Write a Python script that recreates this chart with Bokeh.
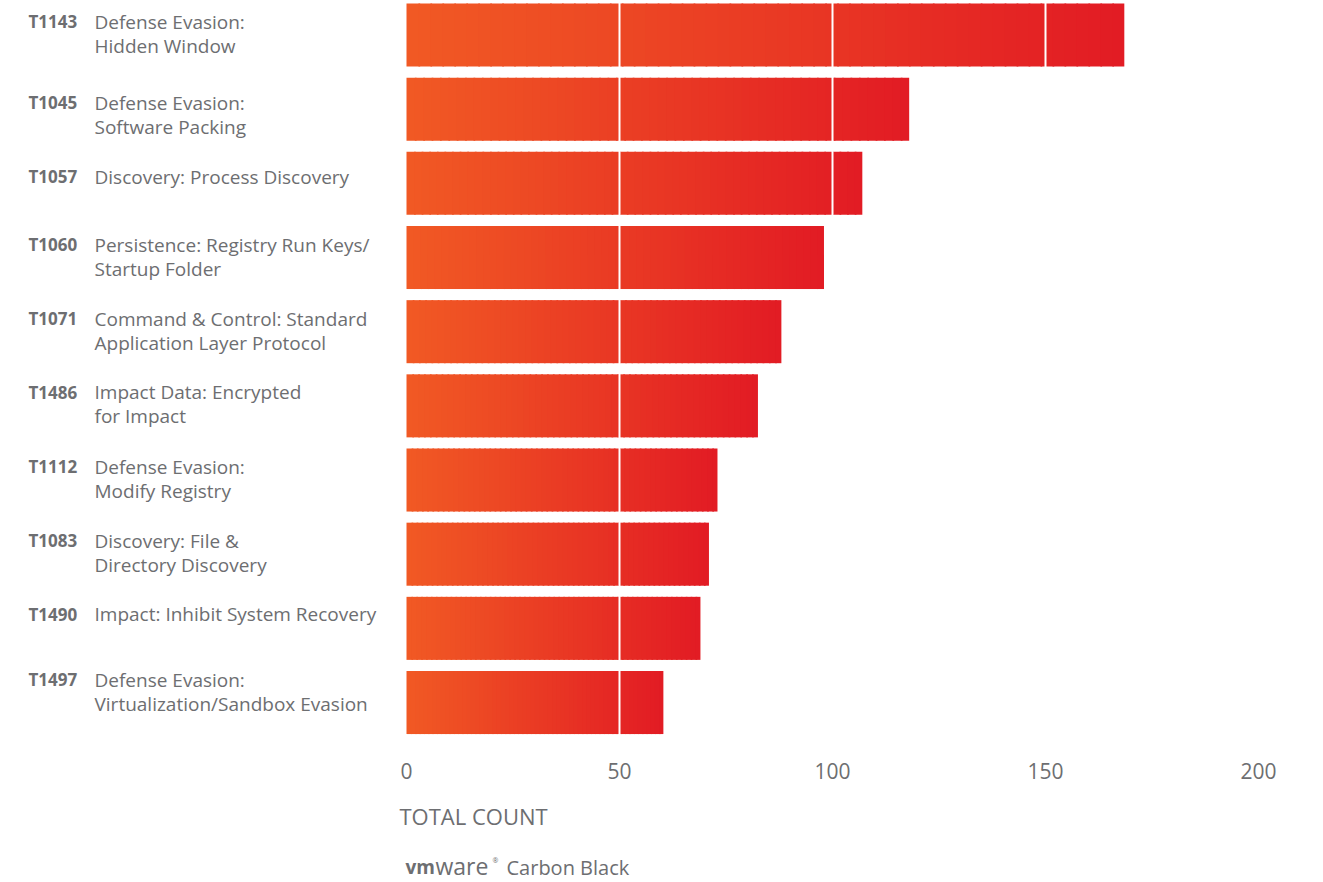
from bokeh.plotting import figure
from bokeh.models import Range1d, ColumnDataSource
from bokeh.core.properties import value
from bokeh.embed import file_html
from bokeh.resources import INLINE

# ---- data ----
codes = ["T1143", "T1045", "T1057", "T1060", "T1071", "T1486", "T1112", "T1083", "T1490", "T1497"]
descriptions = [
    ["Defense Evasion:", "Hidden Window"],
    ["Defense Evasion:", "Software Packing"],
    ["Discovery: Process Discovery"],
    ["Persistence: Registry Run Keys/", "Startup Folder"],
    ["Command & Control: Standard", "Application Layer Protocol"],
    ["Impact Data: Encrypted", "for Impact"],
    ["Defense Evasion:", "Modify Registry"],
    ["Discovery: File &", "Directory Discovery"],
    ["Impact: Inhibit System Recovery"],
    ["Defense Evasion:", "Virtualization/Sandbox Evasion"],
]
counts = [168.5, 118, 107, 98, 88, 82.5, 73, 71, 69, 60.3]
x_ticks = [0, 50, 100, 150, 200]
x_tick_labels = ["0", "50", "100", "150", "200"]
axis_title = "TOTAL COUNT"

# ---- layout / style ----
W, H = 1323, 882
X0_PX, X200_PX = 406, 1258
px_per_unit = (X200_PX - X0_PX) / 200.0
slot = 74.17
first_center = 34.5
bar_h = 0.85
label_dy = [-13.5, -6.5, -6.5, -13, -13, -13.5, -13.5, -13.5, -14, -23]  # layout nudge, px
TEXT = "#6d6e71"
C_LEFT = (241, 90, 36)
C_RIGHT = (226, 27, 36)
FONT = "Open Sans"
LBL_SIZE = "19px"

x_start = -X0_PX / px_per_unit
x_end = 200 + (W - X200_PX) / px_per_unit
y_top = -first_center / slot
y_bot = (H - first_center) / slot
last = len(counts) - 1

p = figure(width=W, height=H, output_backend="svg", toolbar_location=None,
           x_range=Range1d(x_start, x_end), y_range=Range1d(y_bot, y_top),
           x_axis_location=None, y_axis_location=None,
           min_border_left=0, min_border_right=0, min_border_top=0, min_border_bottom=0)
p.outline_line_color = None
p.xgrid.visible = False
p.ygrid.visible = False
p.background_fill_color = "white"
p.border_fill_color = "white"

# gradient bars as thin overlapping slices
N = 60
ys, lefts, rights, cols = [], [], [], []
for i, v in enumerate(counts):
    for k in range(N):
        t = (k + 0.5) / N
        r = round(C_LEFT[0] + (C_RIGHT[0] - C_LEFT[0]) * t)
        g = round(C_LEFT[1] + (C_RIGHT[1] - C_LEFT[1]) * t)
        b = round(C_LEFT[2] + (C_RIGHT[2] - C_LEFT[2]) * t)
        ys.append(i)
        lefts.append(v * k / N)
        rights.append(min(v, v * (k + 1) / N + 0.4))
        cols.append("#%02x%02x%02x" % (r, g, b))
src = ColumnDataSource(dict(y=ys, left=lefts, right=rights, c=cols))
p.hbar(y="y", left="left", right="right", height=bar_h, fill_color="c",
       line_color=None, source=src)

# white gridlines over the bar area only
grid_x = x_ticks[1:-1]
p.segment(x0=grid_x, y0=[y_top] * len(grid_x), x1=grid_x, y1=[last + 0.5] * len(grid_x),
          line_color="white", line_width=2)

# category labels
cx, cy, cdy = [], [], []
dx, dy_, dtxt, dyoff = [], [], [], []
for i, (c, d) in enumerate(zip(codes, descriptions)):
    cx.append(0); cy.append(i); cdy.append(label_dy[i])
    for j, line in enumerate(d):
        dx.append(0); dy_.append(i); dtxt.append(line); dyoff.append(label_dy[i] + 24 * j)
p.text(x=cx, y=cy, text=codes, x_offset=28 - X0_PX, y_offset=cdy,
       text_font=value(FONT), text_font_style="bold", text_font_size="17px",
       text_color=TEXT, text_baseline="middle", text_align="left")
p.text(x=dx, y=dy_, text=dtxt, x_offset=94 - X0_PX, y_offset=dyoff,
       text_font=value(FONT), text_font_size=LBL_SIZE,
       text_color=TEXT, text_baseline="middle", text_align="left")

# x tick labels (positioned by the x scale)
p.text(x=x_ticks, y=[last] * len(x_ticks), text=x_tick_labels, y_offset=68,
       text_font=value(FONT), text_font_size="21px", text_color=TEXT,
       text_baseline="middle", text_align="center")

# axis title and logo
p.text(x=[0], y=[last], text=[axis_title], x_offset=-7, y_offset=113,
       text_font=value(FONT), text_font_size="22px", text_color=TEXT,
       text_baseline="middle", text_align="left")
p.text(x=[0], y=[last], text=["vm"], x_offset=-1, y_offset=164,
       text_font=value(FONT), text_font_size="19px", text_font_style="bold",
       text_color=TEXT, text_baseline="middle", text_align="left")
p.text(x=[0], y=[last], text=["ware"], x_offset=29, y_offset=163,
       text_font=value(FONT), text_font_size="23px",
       text_color=TEXT, text_baseline="middle", text_align="left")
p.text(x=[0], y=[last], text=["®"], x_offset=86, y_offset=158,
       text_font=value(FONT), text_font_size="7px",
       text_color=TEXT, text_baseline="middle", text_align="left")
p.text(x=[0], y=[last], text=["Carbon Black"], x_offset=100, y_offset=165,
       text_font=value(FONT), text_font_size="20px",
       text_color=TEXT, text_baseline="middle", text_align="left")

open("out.html", "w").write(file_html(p, INLINE))
